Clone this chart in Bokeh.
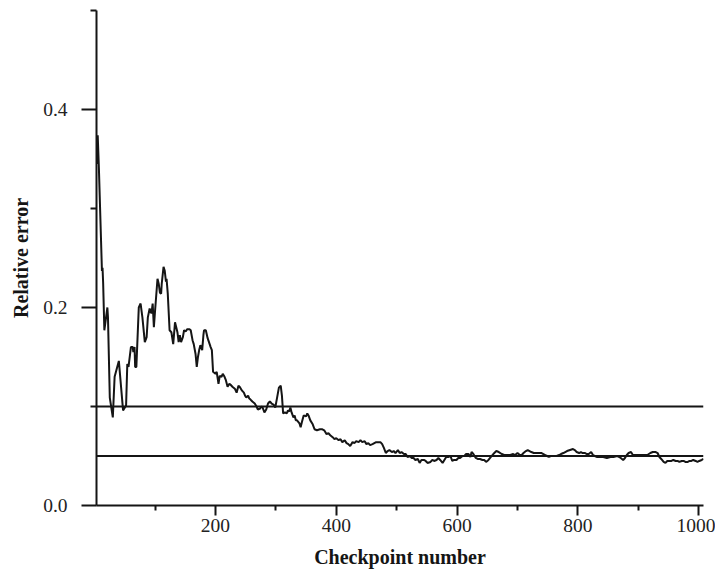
from bokeh.plotting import figure
from bokeh.models import Range1d, FixedTicker, PrintfTickFormatter, Span
from bokeh.embed import file_html
from bokeh.resources import INLINE

checkpoint = [4, 5, 7, 12, 13, 14, 16, 21, 22, 25, 30, 33, 40, 47, 52, 54, 56, 60, 63, 64, 66, 67, 69, 73, 76, 79,
              83, 86, 88, 91, 94, 96, 98, 100, 104, 106, 108, 110, 111, 114, 116, 118, 119, 121, 124, 127, 130, 133,
              137, 139, 141, 143, 146, 148, 151, 153, 157, 159, 162, 164, 167, 169, 171, 173, 175, 178, 180, 181,
              184, 187, 192, 194, 196, 200, 202, 205, 207, 210, 212, 215, 217, 220, 223, 225, 228, 232, 235, 238,
              240, 244, 247, 249, 251, 254, 256, 258, 261, 265, 268, 270, 274, 276, 278, 281, 284, 287, 290, 293,
              296, 299, 302, 305, 308, 310, 312, 315, 318, 320, 322, 324, 326, 329, 331, 333, 335, 339, 341, 343,
              346, 350, 352, 354, 357, 361, 364, 368, 373, 377, 380, 384, 387, 390, 394, 397, 400, 404, 407, 410,
              414, 417, 420, 423, 427, 430, 433, 437, 440, 443, 447, 450, 453, 456, 460, 463, 466, 470, 473, 476,
              479, 482, 485, 488, 492, 495, 498, 502, 505, 508, 512, 515, 518, 522, 525, 528, 531, 535, 538, 541,
              545, 548, 551, 556, 559, 562, 566, 569, 572, 576, 579, 582, 586, 589, 592, 595, 599, 602, 605, 609,
              612, 615, 619, 622, 624, 627, 631, 634, 638, 642, 645, 648, 652, 656, 660, 665, 669, 674, 678, 683,
              688, 693, 696, 700, 704, 707, 710, 714, 717, 720, 723, 727, 731, 736, 740, 743, 746, 749, 752, 755,
              759, 762, 765, 769, 772, 776, 782, 787, 792, 795, 798, 802, 805, 808, 812, 815, 818, 822, 825, 828,
              832, 837, 842, 848, 854, 859, 865, 868, 871, 875, 878, 881, 884, 888, 891, 895, 900, 905, 910, 915,
              920, 924, 929, 932, 935, 938, 942, 945, 948, 952, 955, 958, 962, 965, 968, 972, 975, 978, 982, 985,
              988, 991, 995, 998, 1001, 1005, 1008]

rel_error = [0.345, 0.374, 0.34, 0.237, 0.240, 0.225, 0.177, 0.200, 0.190, 0.109, 0.089, 0.130, 0.146, 0.096, 0.101,
             0.143, 0.140, 0.160, 0.160, 0.155, 0.160, 0.140, 0.140, 0.200, 0.204, 0.190,
             0.165, 0.170, 0.190, 0.199, 0.194, 0.204, 0.180, 0.197, 0.229, 0.224, 0.215, 0.214, 0.224, 0.241, 0.237,
             0.226, 0.229, 0.214, 0.177, 0.175, 0.163, 0.185,
             0.175, 0.165, 0.172, 0.165, 0.170, 0.177, 0.176, 0.178, 0.178, 0.177, 0.167, 0.163, 0.153, 0.140, 0.150,
             0.157, 0.162, 0.157, 0.172, 0.177,
             0.177, 0.169, 0.160, 0.157, 0.135, 0.133, 0.135, 0.123, 0.131, 0.130, 0.133, 0.130, 0.127, 0.120, 0.123,
             0.122, 0.120, 0.118, 0.114, 0.121,
             0.120, 0.116, 0.114, 0.111, 0.109, 0.111, 0.108, 0.107, 0.105, 0.103, 0.100, 0.097, 0.098, 0.100, 0.099,
             0.094, 0.097, 0.103, 0.105, 0.103,
             0.102, 0.099, 0.109, 0.119, 0.121, 0.111, 0.093, 0.094, 0.093, 0.096, 0.095, 0.099, 0.094, 0.089, 0.091,
             0.086, 0.086, 0.083, 0.079, 0.084,
             0.091, 0.090, 0.093, 0.091, 0.086, 0.082, 0.077, 0.076, 0.077, 0.077, 0.076, 0.072, 0.073, 0.071, 0.069,
             0.067, 0.068, 0.066, 0.067, 0.064,
             0.066, 0.063, 0.062, 0.060, 0.064, 0.063, 0.065, 0.064, 0.066, 0.064, 0.065, 0.062, 0.063, 0.061, 0.062,
             0.063, 0.064, 0.064, 0.064, 0.062,
             0.058, 0.053, 0.055, 0.056, 0.054, 0.055, 0.053, 0.056, 0.053, 0.054, 0.052, 0.052, 0.049, 0.050, 0.048,
             0.048, 0.046, 0.047, 0.043, 0.046,
             0.046, 0.045, 0.043, 0.044, 0.046, 0.045, 0.046, 0.048, 0.046, 0.043, 0.046, 0.049, 0.049, 0.050, 0.045,
             0.046, 0.046, 0.048, 0.048, 0.050,
             0.050, 0.052, 0.052, 0.049, 0.054, 0.052, 0.048, 0.047, 0.047, 0.046, 0.046, 0.044, 0.046, 0.049, 0.052,
             0.055, 0.054, 0.052, 0.051, 0.051,
             0.051, 0.052, 0.051, 0.053, 0.051, 0.051, 0.053, 0.055, 0.056, 0.055, 0.054, 0.053, 0.053, 0.053, 0.053,
             0.052, 0.051, 0.050, 0.049, 0.050,
             0.050, 0.050, 0.050, 0.051, 0.052, 0.053, 0.055, 0.056, 0.057, 0.056, 0.054, 0.053, 0.054, 0.053, 0.053,
             0.052, 0.052, 0.054, 0.051, 0.050,
             0.049, 0.049, 0.049, 0.048, 0.049, 0.049, 0.050, 0.049, 0.048, 0.046, 0.048, 0.051, 0.053, 0.054, 0.051,
             0.051, 0.051, 0.051, 0.051, 0.051,
             0.053, 0.054, 0.054, 0.053, 0.049, 0.047, 0.044, 0.043, 0.045, 0.045, 0.045, 0.046, 0.045, 0.045, 0.044,
             0.045, 0.045, 0.044, 0.044, 0.045,
             0.045, 0.046, 0.045, 0.044, 0.045, 0.046, 0.047]

reference_levels = [0.1, 0.05]
x_major_ticks = [200, 400, 600, 800, 1000]
x_minor_ticks = [100, 300, 500, 700, 900]
y_major_ticks = [0.0, 0.2, 0.4]
y_minor_ticks = [0.1, 0.3, 0.5]

INK = "#151515"
SERIF = "Liberation Serif"

p = figure(width=715, height=574, output_backend="svg", toolbar_location=None,
           x_range=Range1d(3, 1008), y_range=Range1d(0, 0.5),
           min_border_left=96, min_border_right=12, min_border_top=10, min_border_bottom=69)
p.outline_line_color = None
p.grid.visible = False
p.background_fill_color = "white"
p.border_fill_color = "white"

for lvl in reference_levels:
    p.add_layout(Span(location=lvl, dimension="width", line_color=INK, line_width=1.8))

p.line(checkpoint, rel_error, line_color=INK, line_width=2)

xa = p.xaxis[0]
xa.ticker = FixedTicker(ticks=x_major_ticks, minor_ticks=x_minor_ticks)
xa.formatter = PrintfTickFormatter(format="%d")
xa.axis_label = "Checkpoint number"
ya = p.yaxis[0]
ya.ticker = FixedTicker(ticks=y_major_ticks, minor_ticks=y_minor_ticks)
ya.formatter = PrintfTickFormatter(format="%.1f")
ya.axis_label = "Relative error"

for ax in (xa, ya):
    ax.axis_line_color = INK
    ax.axis_line_width = 2
    ax.major_tick_line_color = INK
    ax.major_tick_line_width = 2
    ax.minor_tick_line_color = INK
    ax.minor_tick_line_width = 2
    ax.major_tick_in = 0
    ax.minor_tick_in = 0
    ax.major_label_text_font = SERIF
    ax.major_label_text_font_size = "19.5px"
    ax.major_label_text_color = "#222222"
    ax.axis_label_text_font = SERIF
    ax.axis_label_text_font_size = "20px"
    ax.axis_label_text_font_style = "bold"
    ax.axis_label_text_color = INK

xa.major_tick_out = 10
xa.minor_tick_out = 5
xa.major_label_standoff = 3
xa.axis_label_standoff = 11
ya.major_tick_out = 15
ya.minor_tick_out = 6
ya.major_label_standoff = 14
ya.axis_label_standoff = 8

open("out.html", "w").write(file_html(p, INLINE))
